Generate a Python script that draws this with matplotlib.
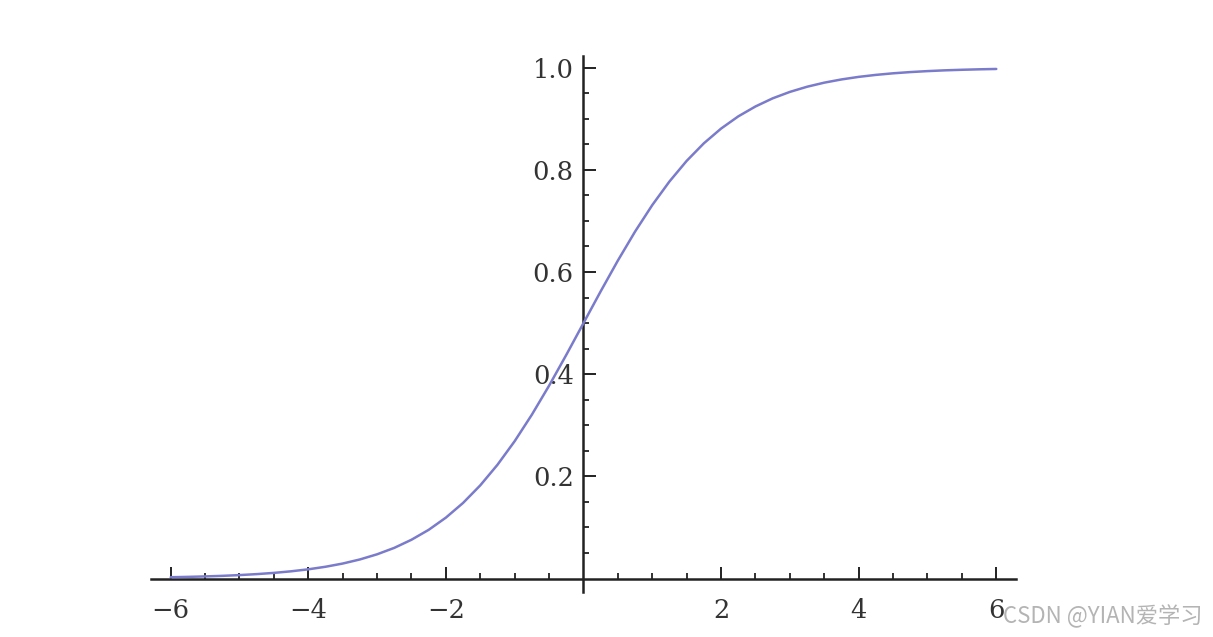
import matplotlib
matplotlib.use("Agg")
import matplotlib.pyplot as plt
from matplotlib.ticker import FixedLocator

# values
x_vals = [-6.0, -5.75, -5.5, -5.25, -5.0, -4.75, -4.5, -4.25, -4.0, -3.75, -3.5, -3.25,
          -3.0, -2.75, -2.5, -2.25, -2.0, -1.75, -1.5, -1.25, -1.0, -0.75, -0.5, -0.25,
          0.0, 0.25, 0.5, 0.75, 1.0, 1.25, 1.5, 1.75, 2.0, 2.25, 2.5, 2.75,
          3.0, 3.25, 3.5, 3.75, 4.0, 4.25, 4.5, 4.75, 5.0, 5.25, 5.5, 5.75, 6.0]
y_vals = [0.0025, 0.0032, 0.0041, 0.0052, 0.0067, 0.0086, 0.011, 0.0141, 0.018, 0.023, 0.0293, 0.0373,
          0.0474, 0.060, 0.0759, 0.0953, 0.1192, 0.148, 0.1824, 0.2227, 0.2689, 0.3208, 0.3775, 0.4378,
          0.500, 0.5622, 0.6225, 0.6792, 0.7311, 0.7773, 0.8176, 0.852, 0.8808, 0.9047, 0.9241, 0.940,
          0.9526, 0.9627, 0.9707, 0.977, 0.982, 0.9859, 0.989, 0.9914, 0.9933, 0.9948, 0.9959, 0.9968, 0.9975]

x_major = [-6, -4, -2, 2, 4, 6]
x_major_labels = ["\u22126", "\u22124", "\u22122", "2", "4", "6"]
x_minor = [-5.5, -5, -4.5, -3.5, -3, -2.5, -1.5, -1, -0.5, 0.5, 1, 1.5,
           2.5, 3, 3.5, 4.5, 5, 5.5]
y_major = [0.2, 0.4, 0.6, 0.8, 1.0]
y_major_labels = ["0.2", "0.4", "0.6", "0.8", "1.0"]
y_minor = [0.05, 0.1, 0.15, 0.25, 0.3, 0.35, 0.45, 0.5, 0.55, 0.65, 0.7, 0.75,
           0.85, 0.9, 0.95]

W, H = 1213, 637
fig = plt.figure(figsize=(W / 100, H / 100), dpi=100)
ax = fig.add_axes([0, 0, 1, 1])
ax.set_facecolor("white")

ax.plot(x_vals, y_vals, color="#7b7bcb", lw=1.8, solid_capstyle="round",
        solid_joinstyle="round", zorder=3)

ax.set_xlim(-8.481, 9.150)
ax.set_ylim(-0.1145, 1.1325)

for s in ["top", "right"]:
    ax.spines[s].set_visible(False)
axis_col = "#222222"
ax.spines["left"].set_position(("data", 0))
ax.spines["bottom"].set_position(("data", 0))
ax.spines["left"].set_bounds(-0.027, 1.023)
ax.spines["bottom"].set_bounds(-6.28, 6.29)
for s in ["left", "bottom"]:
    ax.spines[s].set_color(axis_col)
    ax.spines[s].set_linewidth(1.8)

ax.xaxis.set_major_locator(FixedLocator(x_major))
ax.xaxis.set_minor_locator(FixedLocator(x_minor))
ax.yaxis.set_major_locator(FixedLocator(y_major))
ax.yaxis.set_minor_locator(FixedLocator(y_minor))
ax.set_xticklabels(x_major_labels)
ax.set_yticklabels(y_major_labels)

tick_font = dict(family="DejaVu Serif", size=18.5)
ax.tick_params(axis="both", which="major", direction="in", length=9, width=1.4,
               color=axis_col, labelcolor="#333333")
ax.tick_params(axis="both", which="minor", direction="in", length=4.5, width=1.3,
               color=axis_col)
ax.tick_params(axis="x", which="major", pad=14)
ax.tick_params(axis="y", which="major", pad=7)
for lab in ax.get_xticklabels() + ax.get_yticklabels():
    lab.set_fontfamily(tick_font["family"])
    lab.set_fontsize(tick_font["size"])

fig.text(1003 / W, 1 - 623 / H, "CSDN @YIAN爱学习", fontsize=16,
         family=["Noto Sans CJK SC", "DejaVu Sans"], color="#b4b4b4",
         ha="left", va="baseline")

fig.savefig("out.png", dpi=100, facecolor="white")
